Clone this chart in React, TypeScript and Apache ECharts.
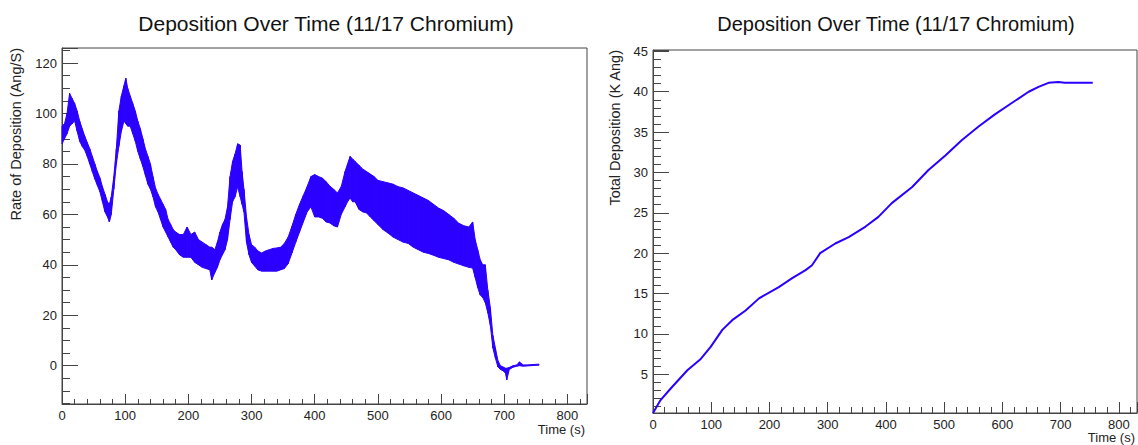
import { useEffect, useRef } from "react";
import * as echarts from "echarts";

const TITLE = "Deposition Over Time (11/17 Chromium)";
const X_NAME = "Time (s)";
const RATE_NAME = "Rate of Deposition (Ang/S)";
const TOTAL_NAME = "Total Deposition (K Ang)";

// Rate of deposition: time (s), lower and upper envelope of the noisy signal (Ang/S)
const TIME_RATE = [
  0, 4, 8, 12, 16, 20, 24, 28, 32, 36, 40, 44, 48, 52, 56, 60, 64, 68, 72, 75,
  78, 82, 86, 90, 94, 98, 101, 104, 108, 112, 116, 120, 124, 128, 132, 136, 140, 144, 148, 152,
  156, 160, 164, 168, 172, 176, 180, 186, 192, 198, 204, 210, 216, 222, 228, 234, 237, 242, 246, 250,
  254, 258, 262, 266, 270, 274, 278, 282, 285, 288, 292, 296, 300, 305, 310, 316, 322, 328, 334, 340,
  346, 352, 358, 364, 370, 376, 382, 388, 394, 400, 406, 412, 418, 424, 430, 436, 442, 448, 452, 456,
  460, 464, 470, 476, 482, 488, 494, 500, 508, 516, 524, 532, 540, 548, 556, 564, 572, 580, 588, 596,
  604, 612, 620, 628, 636, 644, 650, 654, 658, 662, 666, 670, 674, 678, 682, 686, 690, 694, 698, 702,
  704, 708, 714, 720, 724, 730, 736, 742, 748, 755,
];
const RATE_LOW = [
  88, 90, 92, 95, 96, 97, 93, 89, 87, 85.5, 83, 80, 77, 74, 71.5, 69, 65, 61, 59, 57,
  60, 70, 80, 87, 93, 97, 96, 95, 95, 92, 89, 85, 82, 79, 75.5, 72, 70, 67, 63, 61,
  58, 55, 53, 51, 49, 47, 46, 44, 43, 43, 43, 41, 40, 39, 38.5, 38, 34, 37, 39, 42,
  44, 46, 50, 58, 65, 67, 71, 67, 64, 61, 49, 44, 41, 39.5, 38, 37.5, 37.5, 37.5, 37.5, 37.5,
  38, 38.5, 40.5, 44.7, 49, 53, 57, 61, 63, 59, 59, 58.5, 57, 56.6, 55.5, 55, 60, 63, 65, 66.5,
  65, 65, 62, 61, 60.6, 59, 57.5, 56, 54, 52.6, 51, 50, 49, 48.5, 47, 46, 45, 44.5, 43.8, 43,
  42.5, 42, 41, 40.3, 39.6, 39, 38.7, 35, 31, 28, 27, 25, 21, 16, 7, 3, -0.5, -1.5, -2, -3,
  -5.6, -1.5, -0.6, -0.2, 0, -0.2, -0.1, 0, 0.1, 0.2,
];
const RATE_HIGH = [
  95, 96, 100, 108, 106, 104, 101, 97, 94, 91, 88.5, 86, 83, 80, 77, 74.5, 71, 68, 65, 64,
  67, 75, 86, 101, 107, 111, 114, 110, 107, 104, 101, 97, 94, 90, 86, 83, 80, 75, 70.5, 68,
  66, 64, 62, 58, 56, 54, 53, 52, 52, 55, 52, 53, 50, 49, 48, 47, 47, 46, 49, 53,
  56, 58, 63, 75, 81, 84, 88, 87.5, 77, 70, 59, 52, 48, 47, 45.5, 44.7, 45.5, 46, 46.5, 46.7,
  47, 48.5, 51, 55.3, 60, 64, 67.5, 71, 75, 75.8, 75, 74.4, 73, 71.2, 70, 68.5, 71, 77, 80, 83,
  82, 81, 79.5, 78, 77, 76, 75, 73.5, 73, 72.5, 72, 71, 70.5, 69.5, 68.5, 67.5, 66.5, 65.5, 64, 62.5,
  61.5, 60, 58.5, 56.5, 55.5, 55, 57, 50, 46, 42, 40, 40, 30, 23, 12, 7, 2, 0, -0.5, -1,
  -1, -0.7, 0, 0.3, 1.5, 0.3, 0.3, 0.4, 0.5, 0.6,
];

// Total deposition: time (s), thousands of Angstrom
const TIME_TOTAL = [
  0, 13, 30, 59, 82, 99, 119, 136, 159, 182, 216, 239, 262, 273, 287, 313, 336, 365, 387, 410,
  445, 473, 502, 530, 559, 587, 616, 645, 662, 679, 696, 707, 755,
];
const TOTAL = [
  0.2, 1.8, 3.2, 5.5, 6.9, 8.4, 10.5, 11.7, 12.9, 14.4, 15.8, 16.9, 17.9, 18.5, 20.0, 21.2, 22.0, 23.3, 24.5, 26.2,
  28.2, 30.3, 32.1, 34.0, 35.7, 37.2, 38.6, 40.0, 40.6, 41.1, 41.2, 41.1, 41.1,
];

const BLUE = "#2b00ff";
const FONT = "Liberation Sans, Arial, Helvetica, sans-serif";
const AXIS = "#444";

function xAxis(gridIndex: number, major: number, minor: number) {
  return {
    type: "value" as const,
    gridIndex,
    min: 0,
    max: 831,
    interval: 100,
    axisLine: { show: true, onZero: false, lineStyle: { color: AXIS, width: 1 } },
    axisTick: { show: true, inside: true, length: major, lineStyle: { color: AXIS } },
    minorTick: { show: true, splitNumber: 5, length: minor, lineStyle: { color: AXIS } },
    splitLine: { show: false },
    axisLabel: { showMaxLabel: false, margin: 5, fontSize: 13, color: "#222", fontFamily: FONT },
    name: X_NAME,
    nameLocation: "end" as const,
    nameGap: -2,
    nameTextStyle: {
      align: "right",
      verticalAlign: "top",
      padding: [gridIndex === 0 ? 19 : 18, 0, 0, 0],
      fontSize: 13,
      color: "#222",
      fontFamily: FONT,
    },
  };
}

function yAxis(gridIndex: number, min: number, max: number, split: number, minorSplit: number) {
  return {
    type: "value" as const,
    gridIndex,
    min,
    max,
    splitNumber: split,
    axisLine: { show: true, onZero: false, lineStyle: { color: AXIS, width: 1 } },
    axisTick: { show: true, inside: true, length: 16, lineStyle: { color: AXIS } },
    minorTick: { show: true, splitNumber: minorSplit, length: 8, lineStyle: { color: AXIS } },
    splitLine: { show: false },
    axisLabel: {
      showMinLabel: false,
      showMaxLabel: false,
      margin: 5,
      fontSize: 13,
      color: "#222",
      fontFamily: FONT,
    },
  };
}

export default function App() {
  const ref = useRef<HTMLDivElement>(null);
  useEffect(() => {
    const chart = echarts.init(ref.current!, null, { renderer: "svg" });
    const bandData = TIME_RATE.slice(0, -1).map((t, i) => [
      t,
      RATE_LOW[i],
      RATE_HIGH[i],
      TIME_RATE[i + 1],
      RATE_LOW[i + 1],
      RATE_HIGH[i + 1],
    ]);
    const totalData = TIME_TOTAL.map((t, i) => [t, TOTAL[i]]);
    chart.setOption({
      animation: false,
      backgroundColor: "#fff",
      title: [
        {
          text: TITLE,
          left: 321,
          top: 8,
          textAlign: "center",
          textStyle: { fontSize: 21, fontWeight: "normal", color: "#111", fontFamily: FONT },
        },
        {
          text: TITLE,
          left: 891,
          top: 9,
          textAlign: "center",
          textStyle: { fontSize: 20, fontWeight: "normal", color: "#111", fontFamily: FONT },
        },
      ],
      grid: [
        { left: 62, top: 48, width: 525, height: 356, show: true, borderColor: AXIS, borderWidth: 1, backgroundColor: "transparent" },
        { left: 653, top: 50, width: 484, height: 363, show: true, borderColor: AXIS, borderWidth: 1, backgroundColor: "transparent" },
      ],
      xAxis: [xAxis(0, 10, 5), xAxis(1, 11, 6)],
      yAxis: [yAxis(0, -15.2, 126, 7, 4), yAxis(1, 0.2, 45.17, 9, 5)],
      graphic: [
        {
          type: "text",
          x: 16,
          y: 48,
          rotation: Math.PI / 2,
          style: { text: RATE_NAME, align: "right", verticalAlign: "middle", fontSize: 14.5, fill: "#222", fontFamily: FONT },
        },
        {
          type: "text",
          x: 615,
          y: 50,
          rotation: Math.PI / 2,
          style: { text: TOTAL_NAME, align: "right", verticalAlign: "middle", fontSize: 14.5, fill: "#222", fontFamily: FONT },
        },
      ],
      series: [
        {
          type: "custom",
          xAxisIndex: 0,
          yAxisIndex: 0,
          data: bandData,
          encode: { x: [0, 3], y: [1, 2, 4, 5] },
          renderItem: (_params: any, api: any) => {
            const a = api.coord([api.value(0), api.value(1)]);
            const b = api.coord([api.value(0), api.value(2)]);
            const c = api.coord([api.value(3), api.value(5)]);
            const d = api.coord([api.value(3), api.value(4)]);
            return {
              type: "polygon",
              shape: { points: [a, b, c, d] },
              style: { fill: BLUE, stroke: BLUE, lineWidth: 1 },
            };
          },
        },
        {
          type: "line",
          xAxisIndex: 1,
          yAxisIndex: 1,
          data: totalData,
          symbol: "none",
          lineStyle: { color: BLUE, width: 2 },
        },
      ],
    });
    return () => chart.dispose();
  }, []);
  return <div ref={ref} style={{ position: "fixed", left: 0, top: 0, width: 1138, height: 445 }} />;
}
